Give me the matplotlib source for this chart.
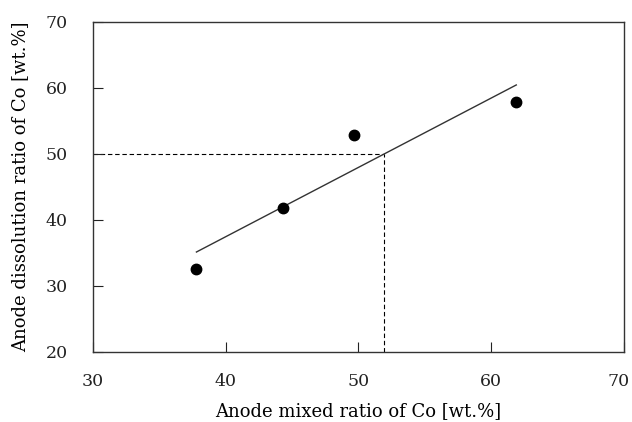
import matplotlib
matplotlib.use("Agg")
import matplotlib.pyplot as plt
import matplotlib.transforms as mtransforms
import numpy as np

# data
mixed_co = [37.8, 44.3, 49.7, 61.9]       # anode mixed ratio of Co [wt.%]
dissolved_co = [32.6, 41.8, 52.9, 57.9]   # anode dissolution ratio of Co [wt.%]
target_y = 50.0                            # guide line level
x_ticks = [30, 40, 50, 60, 70]
y_ticks = [20, 30, 40, 50, 60, 70]

plt.rcParams['font.family'] = ['DejaVu Serif']

fig = plt.figure(figsize=(6.32, 4.22), dpi=100)
ax = fig.add_axes([0.147, 0.166, 0.840, 0.782])

# least squares line through the points
k, b = np.polyfit(mixed_co, dissolved_co, 1)
xs = np.array([min(mixed_co), max(mixed_co)])
ax.plot(xs, k * xs + b, color='#333333', lw=1.0, zorder=2)

# dashed guides where the fit reaches 50 %
x_at = (target_y - b) / k
ax.plot([30, x_at], [target_y, target_y], color='k', lw=0.8, ls=(0, (4, 2.5)), zorder=1)
ax.plot([x_at, x_at], [20, target_y], color='k', lw=0.8, ls=(0, (4, 2.5)), zorder=1)

ax.plot(mixed_co, dissolved_co, 'o', color='k', ms=7.5, zorder=3)

ax.set_xlim(30, 70)
ax.set_ylim(20, 70)
ax.set_xticks(x_ticks)
ax.set_yticks(y_ticks)
ax.tick_params(direction='in', length=7, width=0.8, labelsize=12.5, colors='#222222')
ax.tick_params(axis='x', pad=15)
ax.tick_params(axis='y', pad=18)
for s in ax.spines.values():
    s.set_color('#333333')
    s.set_linewidth(1.0)

# last x label sits a bit left so it stays inside the picture
last = ax.get_xticklabels()[-1]
last.set_transform(last.get_transform() + mtransforms.ScaledTranslation(-4 / 72, 0, fig.dpi_scale_trans))

ax.set_xlabel('Anode mixed ratio of Co [wt.%]', fontsize=13, labelpad=9)
ax.set_ylabel('Anode dissolution ratio of Co [wt.%]', fontsize=13, labelpad=12)

fig.savefig('out.png', dpi=100)
